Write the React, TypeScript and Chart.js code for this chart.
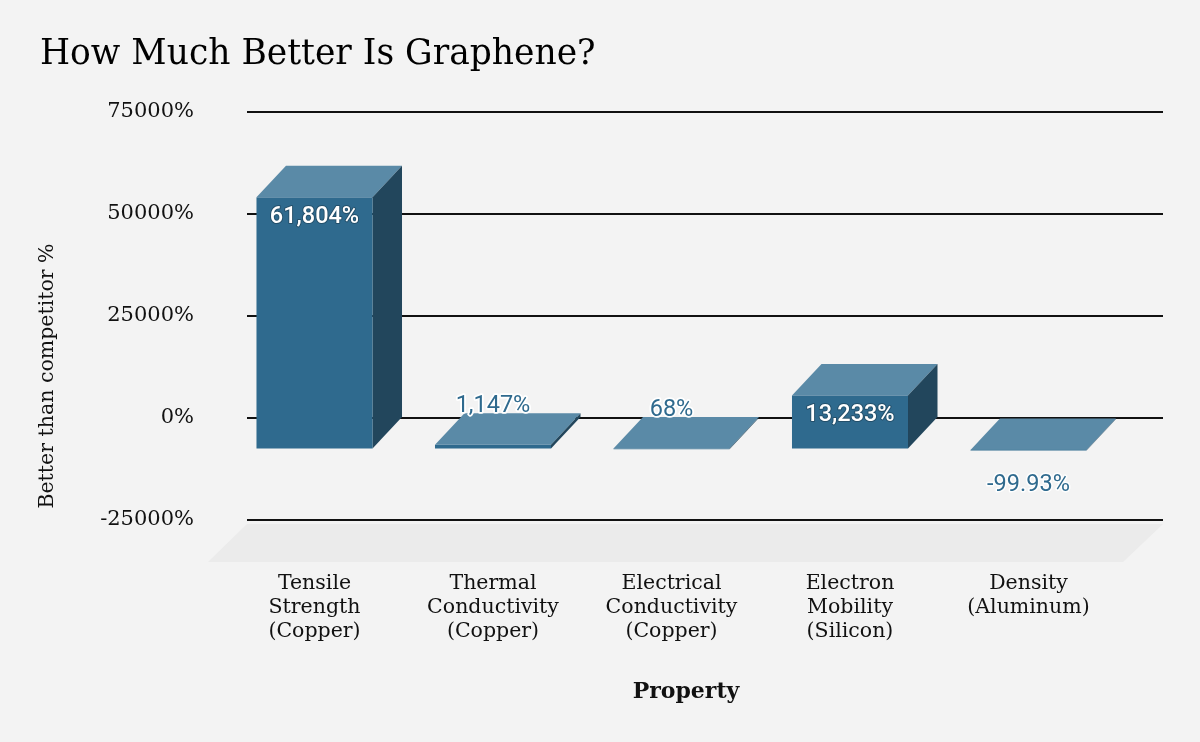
import React, { useEffect, useRef } from "react";
import { Chart, registerables } from "chart.js";

Chart.register(...registerables);

// ---------- data ----------
const TITLE = "How Much Better Is Graphene?";
const CATEGORIES: string[][] = [
  ["Tensile", "Strength", "(Copper)"],
  ["Thermal", "Conductivity", "(Copper)"],
  ["Electrical", "Conductivity", "(Copper)"],
  ["Electron", "Mobility", "(Silicon)"],
  ["Density", "(Aluminum)"],
];
const VALUES = [61804, 1147, 68, 13233, -99.93];
const Y_MIN = -25000;
const Y_MAX = 75000;
const Y_STEP = 25000;
const Y_TITLE = "Better than competitor %";
const X_TITLE = "Property";

// ---------- style ----------
const SERIF = "'DejaVu Serif', 'Liberation Serif', serif";
const SANS = "Roboto, 'Noto Sans', sans-serif";
const BG = "#f3f3f3";
const FLOOR = "#ebebeb";
const FRONT = "#2f6a8e";
const TOP = "#5a8aa7";
const SIDE = "#22465c";
const GRID = "#111111";
const TEXT = "#111111";
const DX = 29.5; // 3D depth, horizontal
const DY = 31.5; // 3D depth, vertical

const fmt = (v: number) =>
  v.toLocaleString("en-US", { maximumFractionDigits: 2 }) + "%";

const bar3d = {
  id: "bar3d",
  beforeDraw(chart: any) {
    const { ctx, chartArea: a } = chart;
    ctx.save();
    ctx.fillStyle = BG;
    ctx.fillRect(0, 0, chart.width, chart.height);
    // floor of the 3D box
    ctx.beginPath();
    ctx.moveTo(a.left, a.bottom + 4);
    ctx.lineTo(a.right, a.bottom + 4);
    ctx.lineTo(a.right - 40, a.bottom + 42);
    ctx.lineTo(a.left - 39, a.bottom + 42);
    ctx.closePath();
    ctx.fillStyle = FLOOR;
    ctx.fill();
    ctx.restore();
  },
  afterDatasetsDraw(chart: any) {
    const { ctx } = chart;
    const meta = chart.getDatasetMeta(0);
    ctx.save();
    meta.data.forEach((el: any, i: number) => {
      const { x, y, base, width } = el.getProps(["x", "y", "base", "width"], true);
      const L = x - width / 2;
      const R = x + width / 2;
      const T = Math.min(y, base);
      const B = Math.max(y, base);
      const fl = L - DX;
      const fr = R - DX;
      const ft = T + DY;
      const fb = B + DY;
      // top face
      ctx.beginPath();
      ctx.moveTo(fl, ft);
      ctx.lineTo(fr, ft);
      ctx.lineTo(R, T);
      ctx.lineTo(L, T);
      ctx.closePath();
      ctx.fillStyle = TOP;
      ctx.fill();
      // side face
      ctx.beginPath();
      ctx.moveTo(fr, ft);
      ctx.lineTo(R, T);
      ctx.lineTo(R, B);
      ctx.lineTo(fr, fb);
      ctx.closePath();
      ctx.fillStyle = SIDE;
      ctx.fill();
      // front face
      ctx.fillStyle = FRONT;
      ctx.fillRect(fl, ft, fr - fl, fb - ft);

      // data label
      const v = VALUES[i];
      const text = fmt(v);
      const cx = x - DX;
      let cy: number;
      let fill: string;
      let stroke: string;
      let lw: number;
      let weight: string;
      if (fb - ft > 40) {
        cy = ft + 20;
        fill = "#ffffff";
        stroke = "rgba(0,0,0,0.25)";
        lw = 2;
        weight = "500";
      } else if (v >= 0) {
        cy = T - 7;
        fill = FRONT;
        stroke = "#ffffff";
        lw = 3.5;
        weight = "400";
      } else {
        cy = fb + 35;
        fill = FRONT;
        stroke = "rgba(255,255,255,0.9)";
        lw = 3;
        weight = "400";
      }
      ctx.font = `${weight} 23.5px ${SANS}`;
      ctx.textAlign = "center";
      ctx.textBaseline = "middle";
      ctx.lineJoin = "round";
      ctx.lineWidth = lw;
      ctx.strokeStyle = stroke;
      ctx.strokeText(text, cx, cy);
      ctx.fillStyle = fill;
      ctx.fillText(text, cx, cy);
    });
    ctx.restore();
  },
  afterDraw(chart: any) {
    const { ctx, chartArea: a } = chart;
    ctx.save();
    // x axis title
    ctx.font = `bold 22px ${SERIF}`;
    ctx.fillStyle = TEXT;
    ctx.textAlign = "center";
    ctx.textBaseline = "middle";
    ctx.fillText(X_TITLE, (a.left + a.right) / 2 - 19, a.bottom + 172);
    // y axis title
    ctx.translate(a.left - 199, (a.top + a.bottom) / 2 + 60);
    ctx.rotate(-Math.PI / 2);
    ctx.font = `20.5px ${SERIF}`;
    ctx.fillStyle = TEXT;
    ctx.fillText(Y_TITLE, 0, 0);
    ctx.restore();
  },
};

export default function App() {
  const ref = useRef<HTMLCanvasElement | null>(null);

  useEffect(() => {
    if (!ref.current) return;
    const chart = new Chart(ref.current, {
      type: "bar",
      data: {
        datasets: [
          {
            data: VALUES.map((v, i) => ({ x: i, y: v })),
            backgroundColor: "rgba(0,0,0,0)",
            borderWidth: 0,
            barPercentage: 0.65,
            categoryPercentage: 1,
          },
        ],
      },
      options: {
        responsive: false,
        animation: false,
        devicePixelRatio: 1,
        events: [],
        layout: { padding: { left: 40, right: 37, top: 0, bottom: 0 } },
        plugins: {
          legend: { display: false },
          tooltip: { enabled: false },
          title: {
            display: true,
            text: TITLE,
            align: "start",
            color: "#000000",
            font: { family: SERIF, size: 34.5, weight: "normal", lineHeight: 1.2 },
            padding: { top: 34, bottom: 36.6 },
          },
        },
        scales: {
          x: {
            type: "linear",
            min: -0.5434,
            max: 4.5883,
            offset: false,
            grid: { display: false, drawTicks: false },
            border: { display: false },
            afterBuildTicks: (s: any) => {
              s.ticks = CATEGORIES.map((_, i) => ({ value: i }));
            },
            afterFit: (s: any) => {
              s.height = 222;
            },
            ticks: {
              autoSkip: false,
              maxRotation: 0,
              padding: 52,
              labelOffset: -DX,
              color: TEXT,
              font: { family: SERIF, size: 20.5, lineHeight: 24 / 20.5 },
              callback: (v: any) => CATEGORIES[v] ?? "",
            },
          },
          y: {
            min: Y_MIN,
            max: Y_MAX,
            grid: { color: GRID, lineWidth: 2, drawTicks: false },
            border: { display: false },
            afterFit: (s: any) => {
              s.width = 207;
            },
            ticks: {
              stepSize: Y_STEP,
              padding: 53,
              color: TEXT,
              font: { family: SERIF, size: 21 },
              callback: (v: any) => v + "%",
            },
          },
        },
      },
      plugins: [bar3d],
    } as any);
    return () => chart.destroy();
  }, []);

  return (
    <div style={{ position: "absolute", left: 0, top: 0, width: 1200, height: 742, background: BG }}>
      <canvas ref={ref} width={1200} height={742} style={{ display: "block" }} />
    </div>
  );
}
